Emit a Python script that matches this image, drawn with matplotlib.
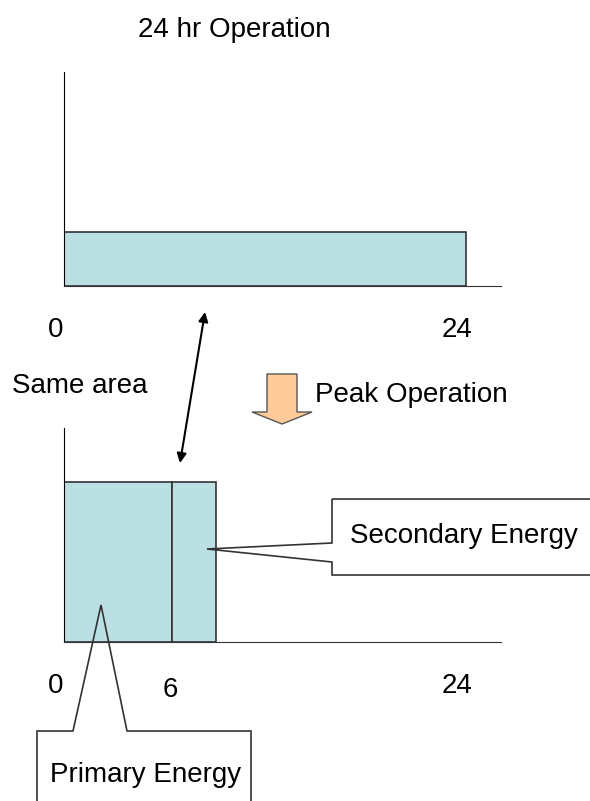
import matplotlib
matplotlib.use("Agg")
import matplotlib.pyplot as plt
from matplotlib.patches import Polygon
from matplotlib.transforms import offset_copy

plt.rcParams['font.family'] = ['Liberation Sans', 'DejaVu Sans']

# 24 hr operation: one long low bar
flat_start = [0]
flat_width = [24]
flat_level = [1.0]
flat_ticks = [0, 24]
flat_tick_labels = ['0', '24']

# peak operation: primary + secondary energy, same total area
peak_start = [0, 6.45]
peak_width = [6.45, 2.62]
peak_level = [2.96, 2.96]
peak_ticks = [0, 6.45, 24]
peak_tick_labels = ['0', '6', '24']

W, H = 590, 801
BAR = '#BBE0E3'
EDGE = '#333333'
FS = 20

fig = plt.figure(figsize=(W / 100, H / 100), dpi=100)


def px_axes(left, top, right, bottom):
    return fig.add_axes([left / W, 1 - bottom / H, (right - left) / W, (bottom - top) / H])


def style(ax):
    ax.set_xlim(0, 26.09)
    ax.set_ylim(0, 3.96)
    for s in ('top', 'right'):
        ax.spines[s].set_visible(False)
    ax.spines['left'].set_color('black')
    ax.spines['bottom'].set_color(EDGE)
    ax.set_xticks([])
    ax.set_yticks([])


# label nudges (px) so the numbers sit where the original slide put them
NUDGE = {'0': (-8, 51), '6': (-2, 55), '24': (-9, 51)}


def tick_text(ax, xs, labels):
    for x, lab in zip(xs, labels):
        dx, dy = NUDGE[lab]
        tr = offset_copy(ax.transData, fig=fig, x=dx, y=-dy, units='dots')
        ax.text(x, 0, lab, transform=tr, ha='center', va='baseline', fontsize=FS,
                clip_on=False)


ax_top = px_axes(64, 72, 501, 286)
style(ax_top)
ax_top.bar(flat_start, flat_level, width=flat_width, align='edge', color=BAR,
           edgecolor=EDGE, linewidth=1.2)
tick_text(ax_top, flat_ticks, flat_tick_labels)

ax_bot = px_axes(64, 428, 501, 642)
style(ax_bot)
ax_bot.bar(peak_start, peak_level, width=peak_width, align='edge', color=BAR,
           edgecolor=EDGE, linewidth=1.2)
tick_text(ax_bot, peak_ticks, peak_tick_labels)

# annotation layer in pixel coordinates
ann = fig.add_axes([0, 0, 1, 1], zorder=5)
ann.set_xlim(0, W)
ann.set_ylim(H, 0)
ann.axis('off')
ann.patch.set_alpha(0)

ann.text(234, 37, '24 hr Operation', ha='center', va='baseline', fontsize=FS)
ann.text(12, 393, 'Same area', ha='left', va='baseline', fontsize=FS)
ann.text(315, 402, 'Peak Operation', ha='left', va='baseline', fontsize=FS)

ann.annotate('', xy=(180, 463), xytext=(205, 312),
             arrowprops=dict(arrowstyle='<|-|>', color='black', lw=1.5,
                             mutation_scale=14, shrinkA=0, shrinkB=0))

ann.add_patch(Polygon([(267, 374), (297, 374), (297, 412), (312, 412), (282, 424),
                       (252, 412), (267, 412)], closed=True, facecolor='#FFCC99',
                      edgecolor='#555555', lw=1))

ann.add_patch(Polygon([(332, 499), (620, 499), (620, 575), (332, 575), (332, 562),
                       (207, 549), (332, 543)], closed=True, facecolor='none',
                      edgecolor=EDGE, lw=1.2, clip_on=False))
ann.text(350, 543, 'Secondary Energy', ha='left', va='baseline', fontsize=FS)

ann.add_patch(Polygon([(37, 830), (37, 731), (73, 731), (101, 605), (127, 731),
                       (251, 731), (251, 830)], closed=True, facecolor='none',
                      edgecolor=EDGE, lw=1.2, clip_on=False))
ann.text(50, 782, 'Primary Energy', ha='left', va='baseline', fontsize=FS)

fig.savefig('out.png', dpi=100)
